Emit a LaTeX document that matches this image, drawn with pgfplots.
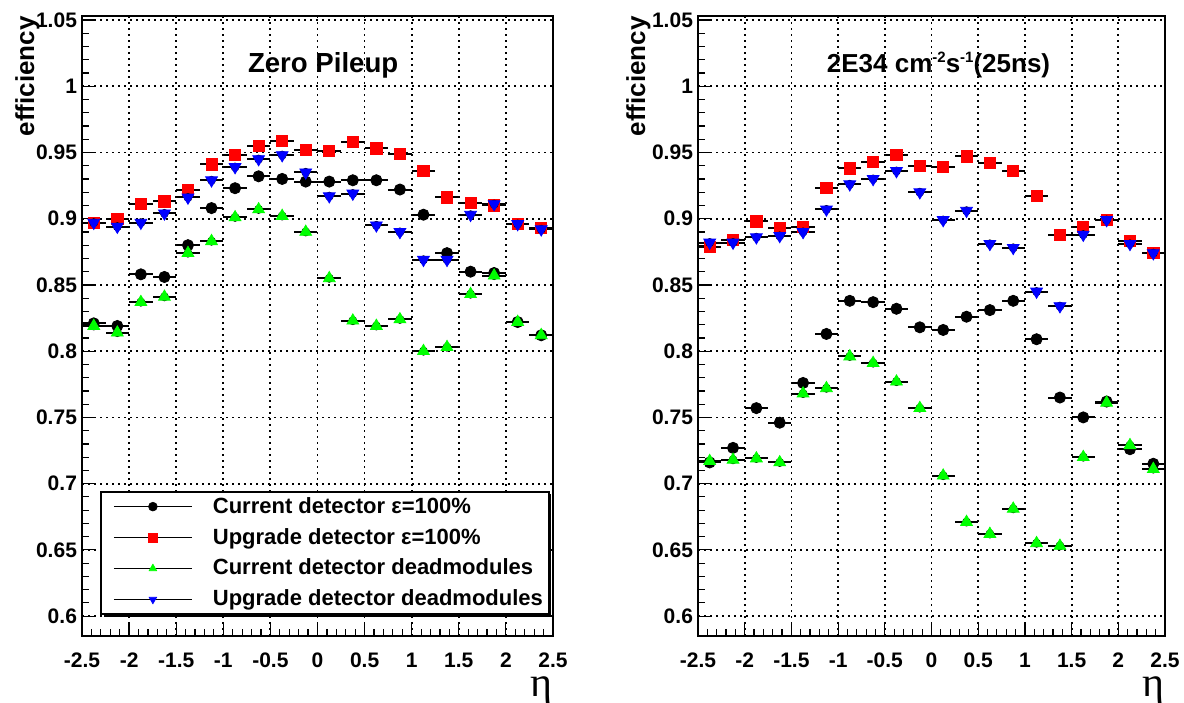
\documentclass[border=0pt]{standalone}
\usepackage{fontspec}
\setmainfont{Liberation Sans}
\newfontfamily\etafont{Liberation Serif}
\usepackage{pgfplots}
\pgfplotsset{compat=1.18}
\usepackage{pgfplotstable}

% efficiency per eta bin: current / upgrade detector, full and with dead modules
\pgfplotstableread{
eta     cur     upg     curdead upgdead
-2.375  0.821   0.897   0.819   0.897
-2.125  0.819   0.900   0.814   0.894
-1.875  0.858   0.911   0.837   0.897
-1.625  0.856   0.913   0.841   0.904
-1.375  0.880   0.922   0.874   0.916
-1.125  0.908   0.941   0.883   0.929
-0.875  0.923   0.948   0.901   0.939
-0.625  0.932   0.955   0.907   0.945
-0.375  0.930   0.959   0.902   0.948
-0.125  0.928   0.952   0.890   0.935
 0.125  0.928   0.951   0.855   0.917
 0.375  0.929   0.958   0.823   0.919
 0.625  0.929   0.953   0.819   0.895
 0.875  0.922   0.949   0.824   0.890
 1.125  0.903   0.936   0.800   0.869
 1.375  0.874   0.916   0.803   0.869
 1.625  0.860   0.912   0.843   0.903
 1.875  0.859   0.910   0.857   0.911
 2.125  0.822   0.896   0.822   0.896
 2.375  0.812   0.893   0.812   0.892
}\zeropileup

\pgfplotstableread{
eta     cur     upg     curdead upgdead
-2.375  0.716   0.879   0.717   0.882
-2.125  0.727   0.884   0.718   0.882
-1.875  0.757   0.898   0.719   0.886
-1.625  0.746   0.893   0.716   0.887
-1.375  0.776   0.894   0.768   0.890
-1.125  0.813   0.923   0.772   0.907
-0.875  0.838   0.938   0.796   0.926
-0.625  0.837   0.943   0.791   0.930
-0.375  0.832   0.948   0.777   0.936
-0.125  0.818   0.940   0.757   0.920
 0.125  0.816   0.939   0.706   0.899
 0.375  0.826   0.947   0.671   0.906
 0.625  0.831   0.942   0.662   0.881
 0.875  0.838   0.936   0.681   0.878
 1.125  0.809   0.917   0.655   0.845
 1.375  0.765   0.888   0.653   0.834
 1.625  0.750   0.894   0.720   0.888
 1.875  0.762   0.899   0.761   0.899
 2.125  0.726   0.883   0.729   0.881
 2.375  0.715   0.874   0.711   0.874
}\highlumi

\newcommand{\sups}[1]{\raisebox{5pt}{\fontsize{7.5}{8}\selectfont #1}}

\pgfplotsset{
  rootaxis/.style={
    scale only axis, height=310pt, clip=false,
    xmin=-2.5, xmax=2.5, ymin=0.585, ymax=1.053,
    xtick={-2.5,-2,-1.5,-1,-0.5,0,0.5,1,1.5,2,2.5},
    xticklabels={-2.5,-2,-1.5,-1,-0.5,0,0.5,1,1.5,2,2.5},
    ytick={0.6,0.65,0.7,0.75,0.8,0.85,0.9,0.95,1,1.05},
    yticklabels={0.6,0.65,0.7,0.75,0.8,0.85,0.9,0.95,1,1.05},
    minor x tick num=4, minor y tick num=4,
    xtick pos=bottom, ytick pos=left,
    tick align=inside,
    major tick length=6.5pt, minor tick length=3.5pt,
    every tick/.style={black, line width=0.6pt},
    axis line style={line width=1pt},
    grid=major,
    major grid style={black, line width=0.9pt, dash pattern=on 0.9pt off 2.1pt},
    tick label style={font=\fontsize{10.5}{12}\selectfont\bfseries},
    xticklabel style={yshift=-5pt},
    yticklabel style={xshift=1pt},
  },
  ebar/.style={forget plot, only marks, mark=none,
    error bars/.cd, x dir=both, x fixed=0.125, error mark=none,
    error bar style={black, line width=1pt}},
  legend image code/.code={
    \path (-5pt,0pt);
    \draw[black, line width=0.8pt] (0pt,0pt) -- (39pt,0pt);
    \draw[#1, mark size=2.2pt, line width=0.3pt] plot coordinates {(19.5pt,0pt)};
    \path (47pt,0pt);
  },
}

\begin{document}
\begin{tikzpicture}
\useasboundingbox (0,0) rectangle (592pt,351pt);

% left panel
\begin{axis}[rootaxis, at={(41pt,33pt)}, anchor=south west, width=235.5pt,
  legend cell align=left,
  legend style={at={(0.038,0.034)}, anchor=south west, draw=black, line width=1pt,
    fill=white, font=\fontsize{11}{13}\selectfont\bfseries, row sep=2pt,
    inner xsep=1pt, inner ysep=0.5pt}]
  \addplot[ebar] table[x=eta, y=cur] {\zeropileup};
  \addplot[only marks, mark=*, mark size=2.8pt, black] table[x=eta, y=cur] {\zeropileup};
  \addlegendentry{Current detector ε=100\%}
  \addplot[ebar] table[x=eta, y=upg] {\zeropileup};
  \addplot[only marks, mark=square*, mark size=2.8pt, red] table[x=eta, y=upg] {\zeropileup};
  \addlegendentry{Upgrade detector ε=100\%}
  \addplot[ebar] table[x=eta, y=curdead] {\zeropileup};
  \addplot[only marks, mark=triangle*, mark size=3.4pt, green] table[x=eta, y=curdead] {\zeropileup};
  \addlegendentry{Current detector deadmodules}
  \addplot[ebar] table[x=eta, y=upgdead] {\zeropileup};
  \addplot[only marks, mark=triangle*, mark size=3.4pt, mark options={rotate=180}, blue] table[x=eta, y=upgdead] {\zeropileup};
  \addlegendentry{Upgrade detector deadmodules}
  % legend shadow (the legend box is drawn over it)
  \fill[black] ([shift={(1.6pt,-1.6pt)}]rel axis cs:0.040,0.036)
    rectangle ([shift={(1.6pt,-1.6pt)}]rel axis cs:0.988,0.234);
  \node[font=\fontsize{13.8}{15}\selectfont\bfseries] at (rel axis cs:0.512,0.921) {Zero Pileup};
  \node[rotate=90, anchor=north east, inner sep=0pt,
    font=\fontsize{13}{15}\selectfont\bfseries] at ([xshift=-33.5pt]rel axis cs:0,1) {efficiency};
  \node[anchor=base east, inner sep=0pt, font=\fontsize{21}{21}\selectfont\etafont]
    at ([yshift=-30.5pt]rel axis cs:1,0) {η};
\end{axis}

% right panel
\begin{axis}[rootaxis, at={(349pt,33pt)}, anchor=south west, width=233.5pt]
  \addplot[ebar] table[x=eta, y=cur] {\highlumi};
  \addplot[only marks, mark=*, mark size=2.8pt, black] table[x=eta, y=cur] {\highlumi};
  \addplot[ebar] table[x=eta, y=upg] {\highlumi};
  \addplot[only marks, mark=square*, mark size=2.8pt, red] table[x=eta, y=upg] {\highlumi};
  \addplot[ebar] table[x=eta, y=curdead] {\highlumi};
  \addplot[only marks, mark=triangle*, mark size=3.4pt, green] table[x=eta, y=curdead] {\highlumi};
  \addplot[ebar] table[x=eta, y=upgdead] {\highlumi};
  \addplot[only marks, mark=triangle*, mark size=3.4pt, mark options={rotate=180}, blue] table[x=eta, y=upgdead] {\highlumi};
  \node[font=\fontsize{13}{15}\selectfont\bfseries] at (rel axis cs:0.515,0.921)
    {2E34 cm\sups{-2}s\sups{-1}(25ns)};
  \node[rotate=90, anchor=north east, inner sep=0pt,
    font=\fontsize{13}{15}\selectfont\bfseries] at ([xshift=-36pt]rel axis cs:0,1) {efficiency};
  \node[anchor=base east, inner sep=0pt, font=\fontsize{21}{21}\selectfont\etafont]
    at ([yshift=-30.5pt]rel axis cs:1,0) {η};
\end{axis}
\end{tikzpicture}
\end{document}
